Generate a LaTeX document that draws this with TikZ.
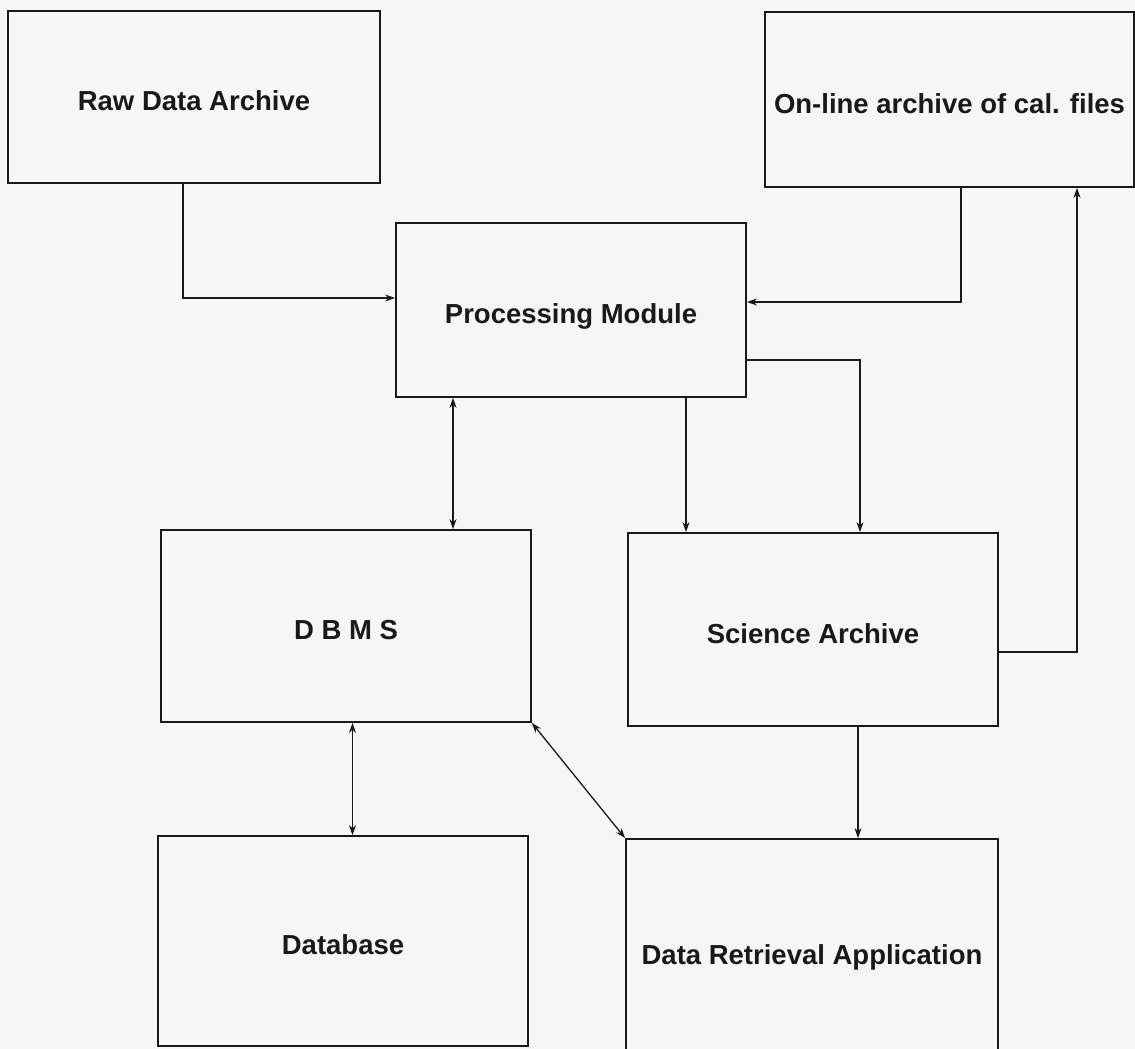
\documentclass[tikz,border=0pt]{standalone}
\usepackage{fontspec}
\setmainfont{Liberation Sans}
\usetikzlibrary{arrows.meta}
\definecolor{paper}{gray}{0.965}
\definecolor{ink}{gray}{0.1}
\tikzset{
  box/.style={draw=ink, line width=1.8pt, inner sep=2pt, align=center,
    text height=27pt, text depth=0pt,
    font=\fontsize{27.5}{32}\selectfont\bfseries, text=ink},
  conn/.style={draw=ink, line width=1.3pt, -{Stealth[length=10pt,width=7pt]}},
  dconn/.style={draw=ink, line width=1.3pt, {Stealth[length=10pt,width=7pt]}-{Stealth[length=10pt,width=7pt]}}
}
\begin{document}
\begin{tikzpicture}[x=1pt,y=1pt]
\useasboundingbox (0,0) rectangle (1135,-1049);
\fill[paper] (0,0) rectangle (1135,-1049);
\clip (0,0) rectangle (1135,-1049);

\node[box, minimum width=372pt, minimum height=172pt] (raw) at (194,-97) {Raw Data Archive};
\node[box, minimum width=369pt, minimum height=175pt] (online) at (949.5,-99.5) {On-line archive of cal. files};
\node[box, minimum width=350pt, minimum height=174pt] (pm) at (571,-310) {Processing Module};
\node[box, minimum width=370pt, minimum height=192pt] (dbms) at (346,-626) {D B M S};
\node[box, minimum width=370pt, minimum height=193pt] (sci) at (813,-629.5) {Science Archive};
\node[box, minimum width=370pt, minimum height=210pt] (db) at (343,-941) {Database};
\node[box, minimum width=372pt, minimum height=223pt] (dr) at (812,-950.5) {Data Retrieval Application};

\draw[conn] ([xshift=-11pt]raw.south) |- ([yshift=12pt]pm.west);
\draw[conn] ([xshift=11.5pt]online.south) |- ([yshift=8pt]pm.east);
\draw[conn] ([yshift=-50pt]pm.east) -| ([xshift=47pt]sci.north);
\draw[conn] ([xshift=115pt]pm.south) -- ([xshift=115pt]pm.south |- sci.north);
\draw[dconn] ([xshift=-118pt]pm.south) -- ([xshift=-118pt]pm.south |- dbms.north);
\draw[conn] ([yshift=-22.5pt]sci.east) -| ([xshift=127.5pt]online.south);
\draw[dconn] ([xshift=6.5pt]dbms.south) -- ([xshift=6.5pt]dbms.south |- db.north);
\draw[dconn] (dbms.south east) -- (dr.north west);
\draw[conn] ([xshift=45pt]sci.south) -- ([xshift=45pt]sci.south |- dr.north);
\end{tikzpicture}
\end{document}
